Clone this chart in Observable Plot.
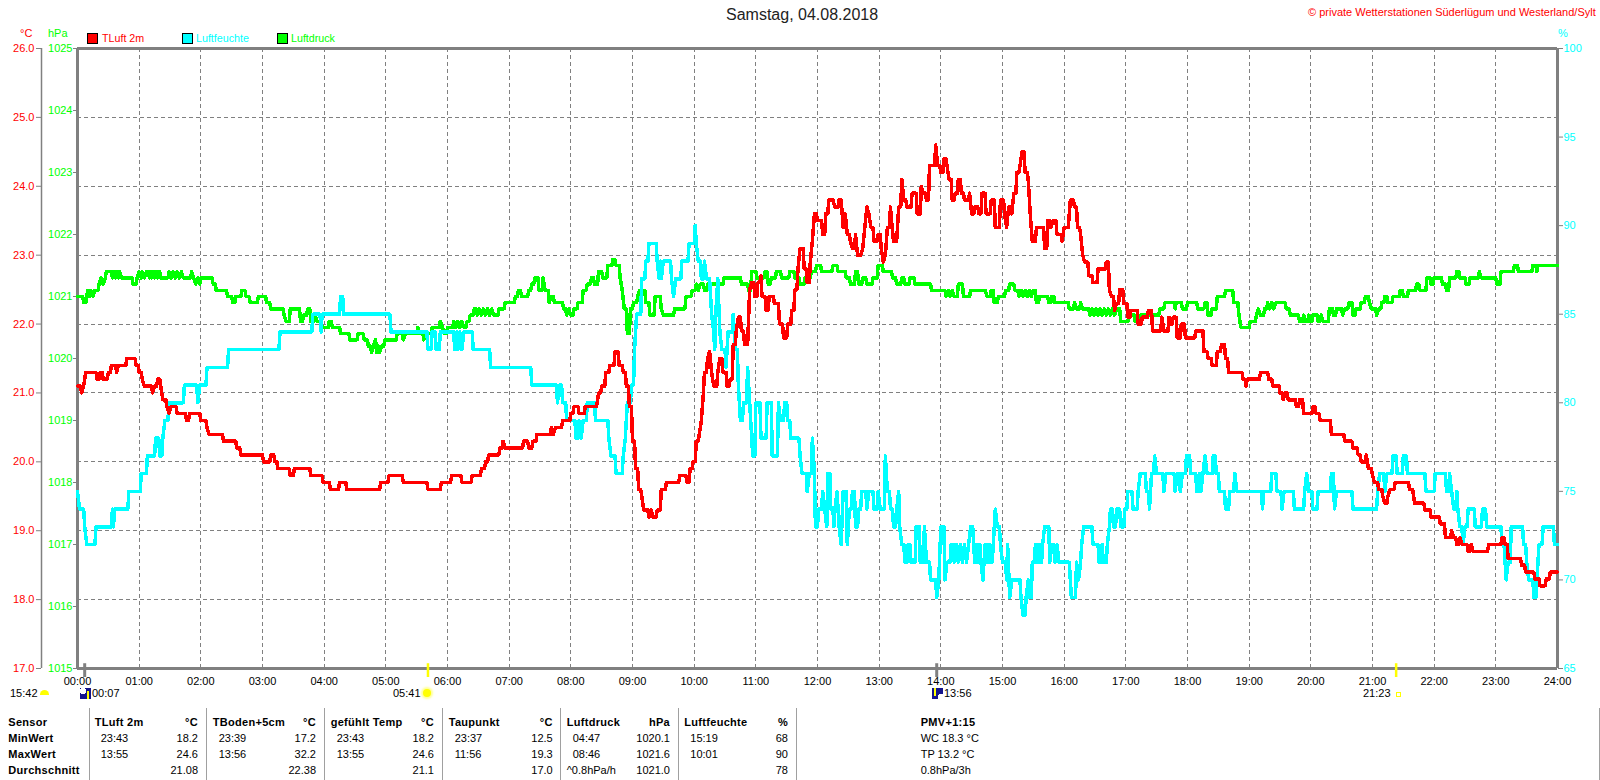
<!DOCTYPE html>
<html lang="de">
<head>
<meta charset="utf-8">
<title>Samstag, 04.08.2018</title>
<script src="https://cdn.jsdelivr.net/npm/d3@7"></script>
<script src="https://cdn.jsdelivr.net/npm/@observablehq/plot@0.6"></script>
<style>
  html, body { margin: 0; padding: 0; background: #fff; }
  body { width: 1600px; height: 780px; overflow: hidden; position: relative; font: 11px "Liberation Sans", Arial, sans-serif; color: #000; }
  #chart { position: absolute; left: 0; top: 0; }
  .t { position: absolute; white-space: nowrap; line-height: 14px; }
  .b { font-weight: bold; letter-spacing: 0.3px; }
  .r { text-align: right; }
  .sw { position: absolute; width: 9px; height: 9px; border: 1px solid #000; }
  .v { position: absolute; width: 1px; top: 708px; height: 72px; background: #a0a0a0; }
  .ic { position: absolute; }
</style>
</head>
<body>
<div id="chart"></div>
<script>
// Values: [minute of day, value]
const temperature = [[0,21.1],[4,21.0],[6,21.1],[8,21.3],[19,21.2],[22,21.3],[25,21.2],[30,21.3],[33,21.4],[38,21.3],[40,21.4],[48,21.5],[57,21.4],[60,21.3],[63,21.2],[65,21.1],[73,21.0],[75,21.1],[78,21.2],[81,21.1],[83,20.9],[87,20.8],[89,20.7],[91,20.8],[97,20.7],[106,20.6],[109,20.7],[120,20.6],[126,20.5],[128,20.4],[142,20.3],[155,20.2],[159,20.1],[181,20.0],[188,20.1],[192,20.0],[195,19.9],[207,19.8],[211,19.9],[227,19.8],[239,19.7],[246,19.6],[255,19.7],[262,19.6],[295,19.7],[303,19.8],[317,19.7],[341,19.6],[354,19.7],[364,19.8],[374,19.7],[384,19.8],[393,19.9],[397,20.0],[400,20.1],[411,20.2],[414,20.3],[416,20.2],[434,20.3],[439,20.2],[443,20.3],[447,20.4],[461,20.5],[463,20.4],[465,20.5],[472,20.6],[480,20.7],[483,20.8],[488,20.7],[494,20.8],[506,20.9],[507,21.0],[510,21.1],[514,21.3],[518,21.4],[523,21.6],[527,21.4],[531,21.3],[534,21.1],[537,20.8],[540,20.3],[543,19.9],[546,19.6],[549,19.5],[551,19.3],[556,19.2],[558,19.3],[560,19.2],[564,19.3],[568,19.6],[573,19.7],[586,19.8],[593,19.7],[596,19.9],[599,20.0],[602,20.3],[605,20.4],[607,20.6],[609,21.0],[610,21.3],[613,21.5],[615,21.6],[617,21.3],[619,21.1],[623,21.3],[625,21.5],[628,21.3],[632,21.1],[635,21.2],[638,21.7],[641,21.9],[643,22.1],[646,21.9],[649,21.7],[653,22.1],[654,22.5],[656,22.6],[659,22.4],[662,22.6],[665,22.7],[666,22.4],[670,22.2],[673,22.4],[678,22.3],[683,22.0],[687,21.8],[691,22.0],[695,22.2],[698,22.5],[701,22.8],[703,23.1],[707,22.8],[710,22.6],[713,22.9],[715,23.2],[717,23.6],[720,23.5],[725,23.3],[728,23.6],[731,23.8],[735,23.8],[737,23.7],[741,23.8],[744,23.6],[745,23.4],[747,23.6],[749,23.3],[752,23.2],[754,23.1],[757,23.3],[759,23.0],[762,23.0],[764,23.1],[766,23.4],[768,23.7],[770,23.6],[772,23.4],[775,23.2],[779,23.3],[782,23.1],[784,22.9],[786,23.0],[788,23.4],[791,23.7],[792,23.5],[794,23.2],[797,23.2],[799,23.7],[802,24.1],[804,23.8],[807,23.7],[812,23.9],[817,23.6],[821,24.0],[823,23.9],[826,23.8],[829,24.3],[832,24.3],[835,24.6],[837,24.3],[840,24.2],[843,24.4],[846,24.3],[848,24.1],[851,23.8],[854,23.9],[857,24.1],[860,23.9],[863,23.8],[868,23.9],[870,23.6],[873,23.7],[877,23.6],[880,23.9],[884,23.6],[889,23.8],[893,23.4],[895,23.4],[898,23.8],[902,23.6],[904,23.4],[906,23.7],[909,23.6],[911,23.9],[914,24.2],[917,24.3],[919,24.5],[922,24.2],[925,24.1],[927,23.6],[929,23.2],[933,23.4],[937,23.4],[941,23.1],[944,23.5],[947,23.4],[949,23.5],[953,23.3],[958,23.2],[960,23.4],[964,23.4],[966,23.8],[970,23.7],[973,23.4],[976,23.3],[978,23.0],[980,22.9],[984,22.7],[988,22.6],[993,22.8],[1001,22.9],[1004,22.5],[1006,22.4],[1009,22.2],[1011,22.3],[1014,22.5],[1018,22.3],[1022,22.1],[1025,22.2],[1032,22.0],[1036,22.1],[1042,22.2],[1046,21.9],[1055,22.1],[1057,21.9],[1062,22.1],[1063,22.0],[1066,22.1],[1070,21.8],[1074,22.0],[1078,21.8],[1088,21.9],[1096,21.6],[1100,21.5],[1104,21.4],[1109,21.6],[1113,21.7],[1117,21.5],[1120,21.3],[1134,21.2],[1137,21.1],[1138,21.2],[1151,21.3],[1159,21.2],[1163,21.1],[1170,21.0],[1173,20.9],[1175,21.0],[1178,20.9],[1186,20.8],[1189,20.9],[1193,20.7],[1202,20.8],[1205,20.7],[1209,20.6],[1220,20.4],[1233,20.3],[1241,20.2],[1246,20.1],[1249,20.0],[1254,20.1],[1256,19.9],[1260,19.8],[1262,19.7],[1266,19.6],[1270,19.5],[1272,19.4],[1275,19.5],[1277,19.6],[1282,19.7],[1296,19.6],[1300,19.5],[1301,19.4],[1311,19.3],[1317,19.2],[1326,19.1],[1331,18.9],[1337,19.0],[1339,18.9],[1342,18.8],[1345,18.9],[1347,18.8],[1353,18.7],[1356,18.8],[1358,18.7],[1373,18.8],[1386,18.9],[1389,18.8],[1392,18.6],[1405,18.5],[1409,18.4],[1418,18.3],[1423,18.2],[1429,18.3],[1433,18.4],[1440,18.4]];

const humidity = [[0,75],[2,74],[7,73],[9,72],[18,73],[34,74],[35,73],[36,74],[50,75],[62,76],[68,77],[76,78],[80,77],[83,78],[85,79],[89,80],[104,81],[117,80],[119,81],[126,82],[147,83],[197,84],[229,85],[237,84],[238,85],[256,86],[259,85],[305,84],[341,83],[345,84],[349,83],[353,84],[367,83],[369,84],[370,83],[372,84],[374,83],[376,84],[385,83],[402,82],[442,81],[467,80],[469,81],[472,80],[476,79],[485,78],[488,79],[490,78],[492,79],[496,80],[504,79],[517,78],[519,77],[524,76],[531,77],[533,78],[535,80],[539,81],[542,83],[544,85],[549,87],[553,88],[556,89],[564,88],[566,87],[567,88],[568,87],[570,88],[578,87],[580,86],[582,87],[588,88],[595,89],[601,90],[602,89],[604,88],[607,87],[610,88],[612,87],[616,86],[617,85],[619,84],[620,83],[621,85],[623,87],[625,84],[627,83],[631,82],[633,84],[638,85],[640,83],[643,81],[644,80],[645,79],[648,80],[652,82],[654,80],[655,79],[657,77],[660,80],[665,78],[671,80],[676,77],[682,80],[684,79],[688,80],[691,79],[694,78],[703,77],[705,76],[710,75],[712,76],[715,78],[717,76],[718,73],[721,74],[725,75],[727,74],[729,73],[730,76],[733,74],[736,73],[737,74],[739,75],[741,73],[743,72],[745,75],[749,72],[751,74],[754,75],[757,73],[760,74],[763,75],[768,74],[770,75],[775,74],[779,75],[781,74],[786,77],[788,75],[791,74],[794,73],[797,74],[799,75],[800,73],[802,72],[805,71],[808,72],[811,71],[816,73],[820,71],[824,73],[826,71],[830,70],[836,69],[838,70],[840,73],[844,70],[846,71],[850,72],[853,71],[855,72],[857,71],[859,72],[861,71],[863,72],[865,71],[867,72],[869,73],[872,72],[873,71],[874,72],[875,71],[876,72],[877,71],[878,72],[879,71],[881,70],[882,71],[883,72],[884,71],[885,72],[886,71],[887,72],[888,71],[891,72],[893,74],[895,73],[898,72],[900,71],[904,70],[905,72],[907,69],[909,70],[918,69],[920,68],[923,69],[925,70],[926,69],[929,71],[932,72],[934,71],[935,72],[936,71],[937,72],[938,71],[939,72],[941,73],[946,71],[948,72],[951,71],[953,72],[955,71],[966,70],[967,69],[972,71],[974,70],[976,71],[977,72],[979,73],[988,72],[994,71],[997,72],[998,71],[1002,72],[1004,73],[1005,74],[1008,73],[1011,74],[1015,73],[1019,74],[1022,75],[1027,74],[1032,75],[1034,76],[1040,75],[1043,74],[1045,76],[1048,77],[1050,76],[1057,75],[1059,76],[1068,75],[1070,76],[1073,75],[1075,76],[1079,77],[1083,76],[1089,75],[1092,76],[1093,75],[1095,76],[1097,77],[1099,76],[1105,77],[1108,76],[1111,75],[1117,74],[1121,75],[1126,76],[1128,75],[1153,74],[1154,75],[1162,76],[1167,75],[1172,74],[1174,75],[1184,74],[1194,75],[1196,76],[1198,75],[1202,74],[1207,75],[1220,76],[1223,74],[1225,75],[1241,74],[1265,75],[1267,76],[1272,75],[1274,76],[1280,77],[1284,76],[1290,77],[1294,76],[1312,75],[1321,76],[1332,75],[1335,76],[1337,75],[1339,74],[1342,75],[1343,74],[1345,73],[1348,72],[1350,73],[1353,74],[1360,73],[1367,74],[1371,73],[1386,72],[1389,71],[1390,70],[1392,71],[1395,73],[1407,72],[1410,71],[1412,70],[1417,69],[1420,70],[1422,72],[1426,73],[1437,72],[1440,72]];

const pressure = [[0,1021.0],[6,1020.9],[9,1021.0],[10,1021.1],[12,1021.0],[13,1021.1],[15,1021.0],[17,1021.1],[21,1021.2],[23,1021.3],[25,1021.2],[27,1021.3],[28,1021.4],[34,1021.3],[35,1021.4],[37,1021.3],[38,1021.4],[40,1021.3],[41,1021.4],[43,1021.3],[54,1021.2],[58,1021.3],[60,1021.4],[62,1021.3],[63,1021.4],[65,1021.3],[67,1021.4],[70,1021.3],[71,1021.4],[72,1021.3],[74,1021.4],[75,1021.3],[77,1021.4],[78,1021.3],[80,1021.4],[81,1021.3],[89,1021.4],[91,1021.3],[93,1021.4],[95,1021.3],[97,1021.4],[99,1021.3],[101,1021.4],[103,1021.3],[111,1021.4],[113,1021.3],[115,1021.2],[117,1021.3],[119,1021.2],[120,1021.3],[132,1021.2],[135,1021.1],[146,1021.0],[151,1020.9],[154,1021.0],[160,1021.1],[164,1021.0],[168,1020.9],[176,1021.0],[184,1020.9],[188,1020.8],[201,1020.7],[203,1020.6],[207,1020.8],[217,1020.6],[220,1020.7],[224,1020.8],[227,1020.6],[231,1020.7],[233,1020.6],[238,1020.5],[245,1020.6],[248,1020.5],[256,1020.4],[265,1020.3],[273,1020.4],[279,1020.3],[283,1020.2],[286,1020.1],[288,1020.2],[290,1020.3],[291,1020.1],[293,1020.2],[294,1020.1],[296,1020.2],[299,1020.3],[311,1020.4],[317,1020.3],[319,1020.4],[331,1020.5],[333,1020.4],[337,1020.3],[338,1020.4],[345,1020.5],[353,1020.6],[355,1020.5],[357,1020.4],[360,1020.5],[366,1020.6],[368,1020.5],[370,1020.6],[372,1020.5],[374,1020.6],[376,1020.5],[379,1020.6],[382,1020.7],[386,1020.8],[389,1020.7],[391,1020.8],[393,1020.7],[395,1020.8],[397,1020.7],[399,1020.8],[401,1020.7],[403,1020.8],[405,1020.7],[410,1020.8],[416,1020.9],[426,1021.0],[429,1021.1],[432,1021.0],[439,1021.1],[442,1021.2],[445,1021.3],[449,1021.1],[453,1021.3],[455,1021.1],[459,1020.9],[461,1021.0],[464,1020.9],[473,1020.8],[476,1020.7],[478,1020.8],[480,1020.7],[483,1020.8],[487,1020.9],[492,1021.1],[496,1021.2],[500,1021.3],[503,1021.2],[507,1021.4],[511,1021.3],[516,1021.5],[521,1021.6],[524,1021.5],[528,1021.3],[530,1021.1],[532,1020.8],[535,1020.4],[538,1020.8],[541,1020.9],[545,1021.0],[547,1021.1],[553,1020.9],[557,1020.7],[562,1021.0],[568,1020.8],[570,1020.7],[581,1020.8],[592,1021.0],[598,1021.1],[602,1021.2],[604,1021.1],[606,1021.2],[610,1021.1],[613,1021.2],[629,1021.3],[646,1021.2],[653,1021.1],[656,1021.4],[661,1021.3],[669,1021.4],[672,1021.2],[675,1021.3],[680,1021.4],[685,1021.3],[693,1021.4],[698,1021.3],[703,1021.2],[708,1021.3],[714,1021.4],[719,1021.5],[724,1021.4],[735,1021.5],[740,1021.4],[748,1021.3],[752,1021.2],[757,1021.4],[760,1021.2],[764,1021.3],[768,1021.2],[774,1021.3],[779,1021.5],[784,1021.4],[793,1021.3],[797,1021.2],[802,1021.3],[805,1021.2],[810,1021.3],[815,1021.2],[831,1021.1],[845,1021.0],[847,1021.1],[849,1021.0],[851,1021.1],[853,1021.0],[857,1021.2],[862,1021.0],[869,1021.1],[883,1021.1],[885,1021.0],[889,1021.1],[892,1020.9],[896,1021.0],[903,1021.1],[907,1021.2],[912,1021.1],[916,1021.0],[918,1021.1],[920,1021.0],[922,1021.1],[924,1021.0],[926,1021.1],[928,1021.0],[930,1021.1],[933,1020.9],[936,1021.0],[945,1020.9],[948,1021.0],[951,1020.9],[965,1020.8],[970,1020.9],[972,1020.8],[976,1020.9],[978,1020.8],[985,1020.7],[987,1020.8],[989,1020.7],[991,1020.8],[993,1020.7],[995,1020.8],[997,1020.7],[999,1020.8],[1001,1020.7],[1003,1020.8],[1005,1020.7],[1007,1020.8],[1009,1020.7],[1011,1020.8],[1015,1020.6],[1023,1020.7],[1029,1020.6],[1034,1020.7],[1053,1020.8],[1058,1020.9],[1068,1020.8],[1069,1020.9],[1075,1020.8],[1080,1020.9],[1090,1020.8],[1097,1020.9],[1100,1020.7],[1104,1020.8],[1109,1021.0],[1117,1021.1],[1125,1020.9],[1130,1020.7],[1132,1020.5],[1141,1020.6],[1147,1020.7],[1149,1020.8],[1151,1020.7],[1155,1020.8],[1158,1020.9],[1160,1020.8],[1162,1020.9],[1164,1020.8],[1166,1020.9],[1176,1020.8],[1180,1020.7],[1189,1020.6],[1193,1020.7],[1195,1020.6],[1198,1020.7],[1199,1020.6],[1202,1020.7],[1207,1020.6],[1210,1020.7],[1212,1020.6],[1218,1020.8],[1222,1020.7],[1225,1020.8],[1231,1020.7],[1233,1020.8],[1237,1020.9],[1241,1020.7],[1244,1020.8],[1249,1020.9],[1253,1021.0],[1257,1020.9],[1259,1020.8],[1264,1020.7],[1266,1020.8],[1269,1020.9],[1272,1021.0],[1275,1020.9],[1280,1021.0],[1287,1021.1],[1290,1021.0],[1295,1021.1],[1303,1021.2],[1306,1021.1],[1313,1021.3],[1317,1021.2],[1320,1021.3],[1328,1021.2],[1332,1021.1],[1335,1021.3],[1342,1021.4],[1345,1021.3],[1351,1021.2],[1355,1021.3],[1364,1021.4],[1366,1021.3],[1381,1021.2],[1385,1021.4],[1398,1021.5],[1402,1021.4],[1416,1021.5],[1420,1021.4],[1421,1021.5],[1440,1021.5]];

const tempTicks = [17, 18, 19, 20, 21, 22, 23, 24, 25, 26];
const pressureTicks = [1015, 1016, 1017, 1018, 1019, 1020, 1021, 1022, 1023, 1024, 1025];
const humidityTicks = [65, 70, 75, 80, 85, 90, 95, 100];
const hours = d3.range(0, 25);
const sunEvents = [341, 1283];   // 05:41, 21:23
const moonEvents = [7, 836];     // 00:07, 13:56

// The three quantities share one frame; each axis range maps onto the temperature scale
const fromPressure = p => 17 + (p - 1015) * 9 / 10;
const fromHumidity = h => 17 + (h - 65) * 9 / 35;
const grey = "#808080";
const hhmm = m => String(m / 60).padStart(2, "0") + ":00";

// A reading holds until one minute before the next change
const held = series => series.flatMap((d, i) => {
  const next = series[i + 1];
  return next && next[0] - d[0] > 2 ? [d, [next[0] - 1, d[1]]] : [d];
});
const lineStyle = { strokeWidth: 3.5, strokeLinejoin: "round", shapeRendering: "crispEdges" };

const plot = Plot.plot({
  width: 1600, height: 700,
  marginLeft: 77, marginRight: 43, marginTop: 48, marginBottom: 32,
  style: { background: "#fff", fontFamily: "'Liberation Sans', Arial, sans-serif", fontSize: "11px" },
  x: { domain: [0, 1440] },
  y: { domain: [17, 26] },
  marks: [
    Plot.ruleX(hours.slice(1, -1).map(h => h * 60), { stroke: grey, strokeDasharray: "4 3", shapeRendering: "crispEdges" }),
    Plot.ruleY(tempTicks.slice(1, -1), { stroke: grey, strokeDasharray: "4 3", shapeRendering: "crispEdges" }),
    Plot.ruleX([0], { stroke: grey, strokeWidth: 1.5, dx: -36 }),
    Plot.axisY(tempTicks, { anchor: "left", dx: -36, tickSize: 5, tickPadding: 2, stroke: grey, fill: "#f00", tickFormat: d => d.toFixed(1), label: null }),
    Plot.axisY(pressureTicks.map(fromPressure), { anchor: "left", tickSize: 4, tickPadding: 1, stroke: grey, fill: "#0f0", tickFormat: v => String(Math.round(1015 + (v - 17) * 10 / 9)), label: null }),
    Plot.axisY(humidityTicks.map(fromHumidity), { anchor: "right", tickSize: 5, tickPadding: 1, stroke: grey, fill: "#0ff", tickFormat: v => String(Math.round(65 + (v - 17) * 35 / 9)), label: null }),
    Plot.axisX(hours.map(h => h * 60), { anchor: "bottom", tickSize: 0, tickPadding: 9, fill: "#000", tickFormat: hhmm, label: null }),
    Plot.ruleX([0, 1440], { stroke: grey, strokeWidth: 3 }),
    Plot.ruleY([17, 26], { stroke: grey, strokeWidth: 3 }),
    Plot.ruleX(moonEvents, { y1: 17, y2: 17.2, dy: 9, stroke: grey, strokeWidth: 3 }),
    Plot.ruleX(sunEvents, { y1: 17, y2: 17.2, dy: 9, stroke: "#ff0", strokeWidth: 2.5 }),
    Plot.line(held(pressure), { x: d => d[0], y: d => fromPressure(d[1]), stroke: "#0f0", ...lineStyle }),
    Plot.line(held(humidity), { x: d => d[0], y: d => fromHumidity(d[1]), stroke: "#0ff", ...lineStyle }),
    Plot.line(held(temperature), { x: d => d[0], y: d => d[1], stroke: "#f00", ...lineStyle })
  ]
});
document.getElementById("chart").appendChild(plot);

// Texts around the plot
const labels = [
  { text: "Samstag, 04.08.2018", x: 726, y: 6, size: 16, color: "#222" },
  { text: "© private Wetterstationen Süderlügum und Westerland/Sylt", x: 1308, y: 5, color: "#f00" },
  { text: "°C", x: 20, y: 26, color: "#f00" },
  { text: "hPa", x: 48, y: 26, color: "#0f0" },
  { text: "%", x: 1558, y: 26, color: "#0ff" },
  { text: "TLuft 2m", x: 102, y: 31, color: "#f00", size: 10.7 },
  { text: "Luftfeuchte", x: 196, y: 31, color: "#0ff", size: 10.7 },
  { text: "Luftdruck", x: 291, y: 31, color: "#0f0", size: 10.7 },
  { text: "15:42", x: 10, y: 686, color: "#000" },
  { text: "00:07", x: 92, y: 686, color: "#000" },
  { text: "05:41", x: 393, y: 686, color: "#000" },
  { text: "13:56", x: 944, y: 686, color: "#000" },
  { text: "21:23", x: 1363, y: 686, color: "#000" }
];
const legendSwatches = [{ x: 87, c: "#f00" }, { x: 182, c: "#0ff" }, { x: 277, c: "#0f0" }];

const body = d3.select("body");
for (const l of labels) {
  body.append("div").attr("class", "t")
    .style("left", l.x + "px").style("top", l.y + "px")
    .style("color", l.color)
    .style("font-size", (l.size || 11) + "px")
    .style("line-height", (l.size > 12 ? 18 : 14) + "px")
    .text(l.text);
}
for (const s of legendSwatches) {
  body.append("div").attr("class", "sw").style("left", s.x + "px").style("top", "33px").style("background", s.c);
}

// Small day/night icons beside the event times
const icon = (x, y, w, h, css) => body.append("div").attr("class", "ic")
  .style("left", x + "px").style("top", y + "px").style("width", w + "px").style("height", h + "px").attr("style", function () {
    return this.getAttribute("style") + ";" + css;
  });
icon(40, 690, 9, 5, "background:#ff0;border-radius:5px 5px 0 0");
icon(423, 689, 8, 8, "background:#ff0;border-radius:50%;box-shadow:0 0 2px 2px #ffff99");
icon(80, 688, 11, 11, "background:radial-gradient(circle at 3px 3px,#fff 3px,transparent 3.5px),linear-gradient(#ff0,#ff0) 7px 3px/2px 8px no-repeat,#14148c");
icon(932, 688, 11, 11, "background:radial-gradient(circle at 9px 9px,#fff 3px,transparent 3.5px),linear-gradient(#ff0,#ff0) 2px 0/2px 8px no-repeat,#14148c");
icon(1396, 692, 3, 3, "border:1px solid #ff0;width:3px;height:3px");

// Table under the chart
const tableRowsY = [715, 731, 747, 763];
const rowTitles = ["Sensor", "MinWert", "MaxWert", "Durchschnitt"];
const columnX = [94.7, 212.7, 330.7, 448.7, 566.7, 684.3];
const columnRight = [198, 316, 434, 552.7, 670, 788];
const columnRules = [88.5, 205.5, 323.5, 441.5, 559.5, 677.5, 795.5, 1598.5];
const sensorNames = ["TLuft 2m", "TBoden+5cm", "gefühlt Temp", "Taupunkt", "Luftdruck", "Luftfeuchte"];
const sensorUnits = ["°C", "°C", "°C", "°C", "hPa", "%"];
const minTimes = ["23:43", "23:39", "23:43", "23:37", "04:47", "15:19"];
const minValues = ["18.2", "17.2", "18.2", "12.5", "1020.1", "68"];
const maxTimes = ["13:55", "13:56", "13:55", "11:56", "08:46", "10:01"];
const maxValues = ["24.6", "32.2", "24.6", "19.3", "1021.6", "90"];
const meanValues = ["21.08", "22.38", "21.1", "17.0", "1021.0", "78"];
const sideTexts = ["PMV+1:15", "WC 18.3 °C", "TP 13.2 °C", "0.8hPa/3h"];

const put = (text, x, y, cls) => body.append("div").attr("class", "t " + (cls || ""))
  .style("left", x + "px").style("top", y + "px").text(text);
const putRight = (text, xr, y, cls) => body.append("div").attr("class", "t r " + (cls || ""))
  .style("right", (1600 - xr) + "px").style("top", y + "px").text(text);

columnRules.forEach(x => body.append("div").attr("class", "v").style("left", x + "px"));
rowTitles.forEach((t, i) => put(t, 8.3, tableRowsY[i], "b"));
sensorNames.forEach((name, i) => {
  put(name, columnX[i], tableRowsY[0], "b");
  putRight(sensorUnits[i], columnRight[i], tableRowsY[0], "b");
  put(minTimes[i], columnX[i] + 6, tableRowsY[1]);
  putRight(minValues[i], columnRight[i], tableRowsY[1]);
  put(maxTimes[i], columnX[i] + 6, tableRowsY[2]);
  putRight(maxValues[i], columnRight[i], tableRowsY[2]);
  putRight(meanValues[i], columnRight[i], tableRowsY[3]);
});
put("^0.8hPa/h", columnX[4], tableRowsY[3]);
sideTexts.forEach((t, i) => put(t, 920.7, tableRowsY[i], i === 0 ? "b" : ""));
</script>
</body>
</html>
